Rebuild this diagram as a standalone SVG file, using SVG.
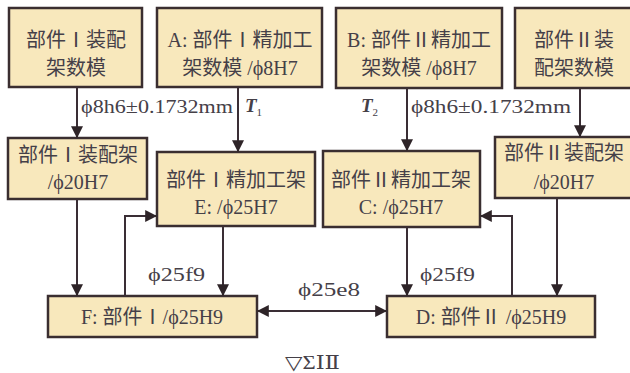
<svg xmlns="http://www.w3.org/2000/svg" width="630" height="373" viewBox="0 0 630 373">
<defs>
<style>
.box{fill:#f8e8bc;stroke:#3a2e30;stroke-width:2.5}
.t{font-family:"Liberation Serif","Noto Sans CJK SC",serif;font-size:20px;fill:#454048;text-anchor:middle}
.lb{font-family:"Liberation Serif","DejaVu Serif","Noto Sans CJK SC",serif;font-size:19px;fill:#454048}
.ln{fill:none;stroke:#3a2e35;stroke-width:2}
</style>
<marker id="ah" viewBox="0 0 10 10" refX="9" refY="5" markerWidth="6" markerHeight="6" orient="auto-start-reverse" markerUnits="strokeWidth">
<path d="M0,0 L10,5 L0,10 Z" fill="#2e2428"/>
</marker>
</defs>
<rect width="630" height="373" fill="#ffffff"/>

<g id="n1"><rect class="box" x="9" y="8" width="133" height="79"/>
<text class="t" x="76" y="47">部件Ⅰ装配</text><text class="t" x="76" y="75">架数模</text></g>
<g id="nA"><rect class="box" x="157" y="8" width="165" height="79"/>
<text class="t" x="240" y="47">A: 部件Ⅰ精加工</text><text class="t" x="240" y="75">架数模 /ϕ8H7</text></g>
<g id="nB"><rect class="box" x="336" y="8" width="166" height="80"/>
<text class="t" x="419" y="47">B: 部件Ⅱ精加工</text><text class="t" x="419" y="75">架数模 /ϕ8H7</text></g>
<g id="n4"><rect class="box" x="515" y="8" width="118" height="80"/>
<text class="t" x="574" y="47">部件Ⅱ装</text><text class="t" x="574" y="75">配架数模</text></g>

<g id="n5"><rect class="box" x="8" y="138" width="139" height="61"/>
<text class="t" x="78" y="162">部件Ⅰ装配架</text><text class="t" x="78" y="189">/ϕ20H7</text></g>
<g id="nE"><rect class="box" x="157" y="152" width="158" height="74"/>
<text class="t" x="236" y="187">部件Ⅰ精加工架</text><text class="t" x="236" y="214">E: /ϕ25H7</text></g>
<g id="nC"><rect class="box" x="323" y="151" width="157" height="76"/>
<text class="t" x="401" y="187">部件Ⅱ精加工架</text><text class="t" x="401" y="214">C: /ϕ25H7</text></g>
<g id="n8"><rect class="box" x="495" y="137" width="138" height="61"/>
<text class="t" x="564" y="160">部件Ⅱ装配架</text><text class="t" x="564" y="189">/ϕ20H7</text></g>

<g id="nF"><rect class="box" x="48" y="296" width="209" height="41"/>
<text class="t" x="152" y="324">F: 部件Ⅰ/ϕ25H9</text></g>
<g id="nD"><rect class="box" x="387" y="296" width="208" height="41"/>
<text class="t" x="491" y="324">D: 部件Ⅱ /ϕ25H9</text></g>

<g id="connectors">
<line class="ln" x1="77" y1="87" x2="77" y2="137" marker-end="url(#ah)"/>
<line class="ln" x1="238" y1="87" x2="238" y2="151" marker-end="url(#ah)"/>
<line class="ln" x1="407" y1="88" x2="407" y2="150" marker-end="url(#ah)"/>
<line class="ln" x1="580" y1="88" x2="580" y2="136" marker-end="url(#ah)"/>
<line class="ln" x1="77" y1="199" x2="77" y2="295" marker-end="url(#ah)"/>
<polyline class="ln" points="125,296 125,216 156,216" marker-end="url(#ah)"/>
<line class="ln" x1="223" y1="226" x2="223" y2="295" marker-end="url(#ah)"/>
<line class="ln" x1="258" y1="311" x2="386" y2="311" marker-start="url(#ah)" marker-end="url(#ah)"/>
<line class="ln" x1="407" y1="227" x2="407" y2="295" marker-end="url(#ah)"/>
<polyline class="ln" points="512,296 512,216 481,216" marker-end="url(#ah)"/>
<line class="ln" x1="557" y1="198" x2="557" y2="295" marker-end="url(#ah)"/>
</g>

<g id="labels">
<text class="lb" x="81" y="113" textLength="152" lengthAdjust="spacingAndGlyphs">ϕ8h6±0.1732mm</text>
<text class="lb" x="411" y="113" textLength="160" lengthAdjust="spacingAndGlyphs">ϕ8h6±0.1732mm</text>
<text class="lb" x="245" y="112" font-style="italic" font-weight="bold" font-size="20">T<tspan font-size="11" dy="4" font-style="normal" font-weight="normal">1</tspan></text>
<text class="lb" x="361" y="112" font-style="italic" font-weight="bold" font-size="20">T<tspan font-size="11" dy="4" font-style="normal" font-weight="normal">2</tspan></text>
<text class="lb" x="148" y="281" textLength="57" lengthAdjust="spacingAndGlyphs">ϕ25f9</text>
<text class="lb" x="420" y="281" textLength="55" lengthAdjust="spacingAndGlyphs">ϕ25f9</text>
<text class="lb" x="298" y="296" textLength="62" lengthAdjust="spacingAndGlyphs">ϕ25e8</text>
<text class="lb" x="285" y="369" textLength="55" lengthAdjust="spacingAndGlyphs">▽ΣⅠⅡ</text>
</g>
</svg>
